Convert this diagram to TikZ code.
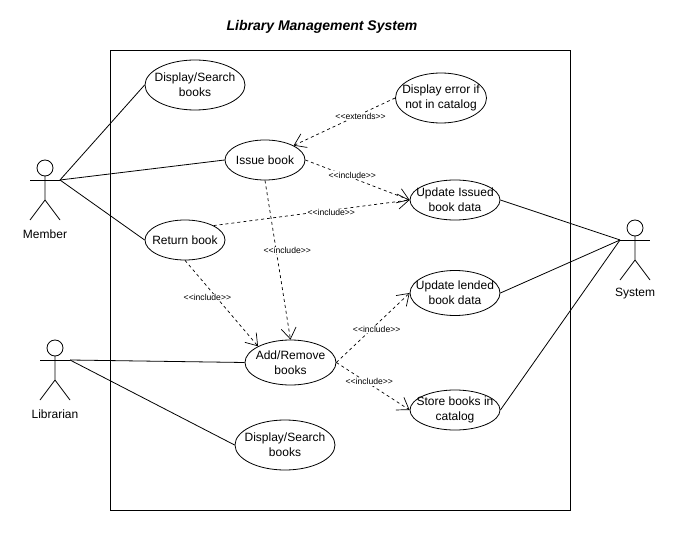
\documentclass[tikz,border=0pt]{standalone}
\usepackage{fontspec}
\setmainfont{Liberation Sans}
\usetikzlibrary{arrows.meta,shapes.geometric}
\tikzset{
  usecase/.style={draw,ellipse,inner sep=-40pt,align=center,font=\fontsize{12}{15}\selectfont,line width=0.8pt},
  assoc/.style={line width=0.8pt},
  dep/.style={line width=0.7pt,dash pattern=on 3pt off 3pt,-{Straight Barb[length=11pt,width=15pt,line width=0.7pt]}},
  deplabel/.style={fill=white,inner sep=0.5pt,font=\fontsize{8.6}{10}\selectfont},
  actorlabel/.style={font=\fontsize{12}{14}\selectfont},
  actorline/.style={line width=0.8pt}
}
\newcommand{\umlactor}[5]{%name x y label labely
  \draw[actorline] (#2,#3-12) circle[radius=8];
  \draw[actorline] (#2,#3-4) -- (#2,#3+20) -- (#2-15,#3+40);
  \draw[actorline] (#2,#3+20) -- (#2+15,#3+40);
  \draw[actorline] (#2-15,#3) -- (#2+15,#3);
  \coordinate (#1L) at (#2-15,#3);
  \coordinate (#1R) at (#2+15,#3);
  \node[actorlabel] (#1T) at (#2,#5) {#4};
}
\begin{document}
\begin{tikzpicture}[x=1pt,y=-1pt]
\useasboundingbox (0,0) rectangle (682,545);
\fill[white] (0,0) rectangle (682,545);
\node[font=\bfseries\itshape\fontsize{14}{18}\selectfont] (title) at (322,26.5) {Library Management System};
\node[draw,line width=0.8pt,minimum width=460pt,minimum height=460pt,inner sep=0pt] (sys) at (340,280) {};

\node[usecase,minimum width=100pt,minimum height=50pt] (ds1) at (195,85) {Display/Search\\books};
\node[usecase,minimum width=80pt,minimum height=40pt] (issue) at (265,160) {Issue book};
\node[usecase,minimum width=91pt,minimum height=50pt] (err) at (441,98) {Display error if\\not in catalog};
\node[usecase,minimum width=90pt,minimum height=40pt] (upi) at (455,200) {Update Issued\\book data};
\node[usecase,minimum width=80pt,minimum height=40pt] (ret) at (185,240) {Return book};
\node[usecase,minimum width=90pt,minimum height=45pt] (upl) at (455,293) {Update lended\\book data};
\node[usecase,minimum width=91pt,minimum height=45pt] (add) at (290.5,362.5) {Add/Remove\\books};
\node[usecase,minimum width=90pt,minimum height=40pt] (store) at (455,410) {Store books in\\catalog};
\node[usecase,minimum width=100pt,minimum height=50pt] (ds2) at (285,445) {Display/Search\\books};

\umlactor{mem}{45}{180}{Member}{234}
\umlactor{lib}{55}{360}{Librarian}{414}
\umlactor{sy}{635}{240}{System}{294}

\draw[assoc] (memR) -- (ds1.west);
\draw[assoc] (memR) -- (issue.west);
\draw[assoc] (memR) -- (ret.west);
\draw[assoc] (libR) -- (add.west);
\draw[assoc] (libR) -- (ds2.west);
\draw[assoc] (upi.east) -- (syL);
\draw[assoc] (upl.east) -- (syL);
\draw[assoc] (store.east) -- (syL);

\draw[dep] (err.west) -- node[deplabel,pos=.34,yshift=-2pt] (l1) {<{}<extends>{}>} (issue.north east);
\draw[dep] (issue.east) -- node[deplabel,pos=.45,yshift=3pt] (l2) {<{}<include>{}>} (upi.west);
\draw[dep] (ret.north east) -- node[deplabel,pos=.59,xshift=2pt,yshift=-2pt] (l3) {<{}<include>{}>} (upi.west);
\draw[dep] (issue.south) -- node[deplabel,pos=.44,xshift=11pt] (l4) {<{}<include>{}>} (add.north);
\draw[dep] (ret.south) -- node[deplabel,pos=.43,xshift=-9pt] (l5) {<{}<include>{}>} (add.north west);
\draw[dep] (add.east) -- node[deplabel,pos=.55,yshift=-5pt] (l6) {<{}<include>{}>} (upl.west);
\draw[dep] (add.east) -- node[deplabel,pos=.45,yshift=2pt] (l7) {<{}<include>{}>} (store.west);
\end{tikzpicture}
\end{document}
